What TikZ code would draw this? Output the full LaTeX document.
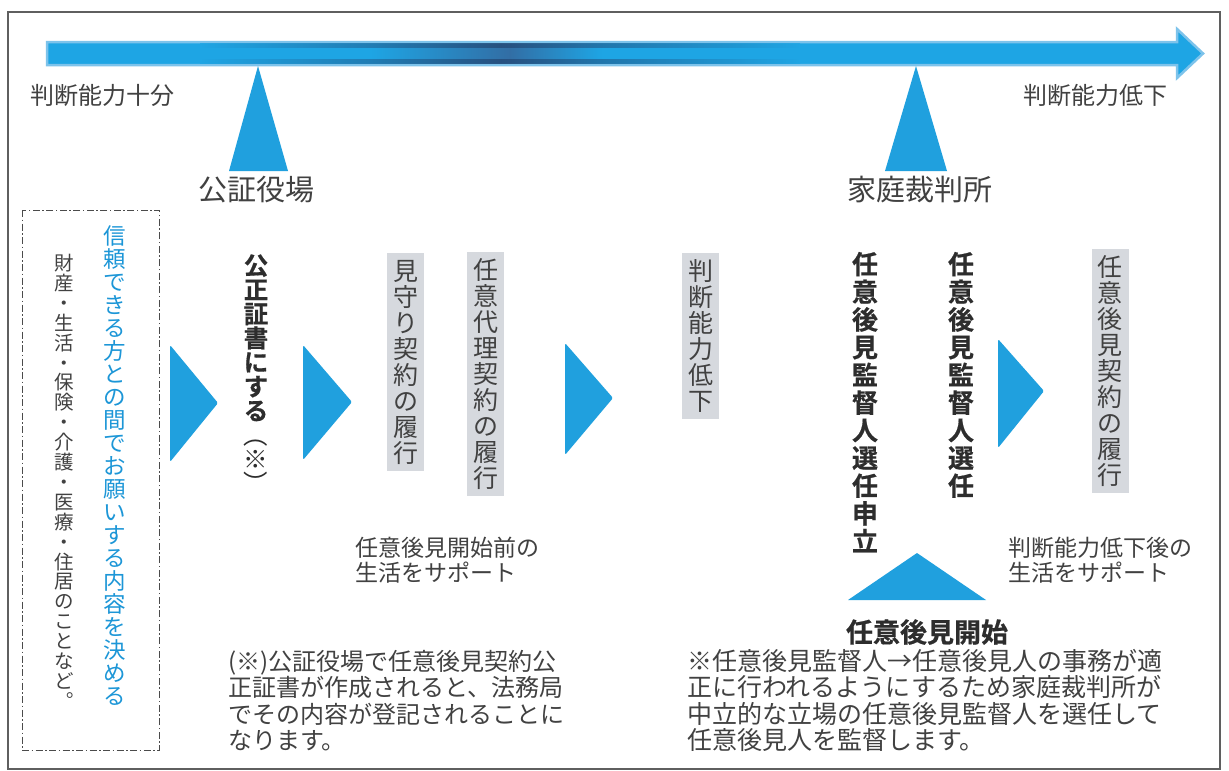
\documentclass[tikz,border=0pt]{standalone}
\usepackage{fontspec}
\setmainfont{Noto Sans CJK JP}
\newfontfamily\heavy{Noto Sans CJK JP Bold}[FakeBold=0.6]
\definecolor{tri}{RGB}{32,160,222}
\definecolor{barblue}{RGB}{30,165,228}
\definecolor{bardark}{RGB}{50,110,165}
\definecolor{bardeep}{RGB}{35,70,115}
\definecolor{barlight}{RGB}{125,195,235}
\definecolor{txt}{RGB}{65,65,65}
\definecolor{boldtxt}{RGB}{45,45,45}
\definecolor{bluetxt}{RGB}{28,150,215}
\definecolor{bggray}{RGB}{214,217,222}
\definecolor{framegray}{RGB}{95,95,95}
\definecolor{dashgray}{RGB}{75,75,75}
\pgfdeclarehorizontalshading{barshade}{100bp}{color(0bp)=(barblue); color(39bp)=(barblue); color(45bp)=(bardark); color(49bp)=(barblue); color(100bp)=(barblue)}
\makeatletter
\newlength\vstk@p
\newcommand\vstk[2]{\setlength\vstk@p{#1}\vbox{\offinterlineskip\vstk@i#2\@nil}}
\def\vstk@i#1{\ifx#1\@nil\else\vstk@b{#1}\expandafter\vstk@i\fi}
\def\vstk@b#1{\hbox to\vstk@p{\hss\vbox to\vstk@p{\vss\hbox{\vrule height .88em depth .12em width 0pt#1}\vss}\hss}}
\makeatother
\newcommand\vlp{{\normalfont\fontsize{24.5}{24.5}\selectfont ︵}}
\newcommand\vast{{\normalfont\fontsize{24.5}{24.5}\selectfont ※}}
\newcommand\vrp{{\normalfont\fontsize{24.5}{24.5}\selectfont ︶}}
\tikzset{
  hl/.style={inner sep=0pt, text=txt},
  vbg/.style={fill=bggray, inner xsep=5.5pt, inner ysep=5pt, text=txt, anchor=north, font=\fontsize{25}{25}\selectfont},
  vbold/.style={inner sep=0pt, text=boldtxt, anchor=north},
  chev/.style={fill=tri, rounded corners=1.5pt},
  uptri/.style={fill=tri}
}
\begin{document}
\begin{tikzpicture}[x=1pt,y=-1pt]
\useasboundingbox (0,0) rectangle (1229,771);
\fill[white] (0,0) rectangle (1229,771);
% frame
\draw[framegray, line width=1.3pt] (8,12) rectangle (1220,769);
% timeline arrow
\shade[shading=barshade, draw=barlight, line width=2.5pt, line join=miter]
  (47,42) -- (1177,42) -- (1177,29) -- (1203,53.5) -- (1177,78) -- (1177,65) -- (47,65) -- cycle;
\shade[left color=barblue, right color=barblue, middle color=bardeep, opacity=0.75] (200,43.5) rectangle (800,47.5);
\shade[left color=barblue, right color=barblue, middle color=bardeep, opacity=0.75] (200,59.5) rectangle (800,63.5);
% up triangles from bar
\fill[uptri] (258,66) -- (288,171) -- (229,171) -- cycle;
\fill[uptri] (916,66) -- (947,171) -- (885,171) -- cycle;
% labels on timeline
\node[hl, font=\fontsize{24}{24}\selectfont, anchor=west] (full) at (30,95) {判断能力十分};
\node[hl, font=\fontsize{24}{24}\selectfont, anchor=east] (low) at (1168,95) {判断能力低下};
\node[hl, font=\fontsize{29}{29}\selectfont] (kosho) at (256,190) {公証役場};
\node[hl, font=\fontsize{29}{29}\selectfont] (katei) at (920,190) {家庭裁判所};
% dashed box
\draw[dashgray, line width=0.9pt, dash pattern=on 7pt off 2.5pt on 1.5pt off 2.5pt] (22,210) rectangle (159,750);
\node[hl, text=bluetxt, anchor=north, font=\fontsize{22.5}{22.5}\selectfont] (trust) at (115,224) {\vstk{23pt}{信頼できる方との間でお願いする内容を決める}};
\node[hl, anchor=north, font=\fontsize{19.5}{19.5}\selectfont] (items) at (64,253) {\vstk{19.9pt}{財産・生活・保険・介護・医療・住居のことなど︒}};
% chevrons
\fill[chev] (170,345) -- (218,403) -- (170,462) -- cycle;
\fill[chev] (303,345) -- (352,402) -- (303,460) -- cycle;
\fill[chev] (565,343) -- (613,398) -- (565,455) -- cycle;
\fill[chev] (998,339) -- (1044,391) -- (998,448) -- cycle;
% vertical steps
\node[vbold, font=\heavy\fontsize{24.5}{24.5}\selectfont] (kousei) at (256,253) {\vstk{24.2pt}{公正証書にする\vlp\vast\vrp}};
\node[vbg] (mimamori) at (405.5,253) {\vstk{26pt}{見守り契約の履行}};
\node[vbg] (nini) at (485.5,252) {\vstk{26pt}{任意代理契約の履行}};
\node[vbg] (decline) at (700.5,253) {\vstk{26pt}{判断能力低下}};
\node[vbold, font=\heavy\fontsize{26}{26}\selectfont] (moushi) at (865,250) {\vstk{27.7pt}{任意後見監督人選任申立}};
\node[vbold, font=\heavy\fontsize{26}{26}\selectfont] (senin) at (961,250) {\vstk{27.7pt}{任意後見監督人選任}};
\node[vbg] (rikou) at (1110,249) {\vstk{26pt}{任意後見契約の履行}};
% support texts
\node[hl, align=left, anchor=west, font=\fontsize{23}{25}\selectfont] (before) at (355,560) {任意後見開始前の\\生活をサポート};
\node[hl, align=left, anchor=west, font=\fontsize{23}{25}\selectfont] (after) at (1008,560) {判断能力低下後の\\生活をサポート};
% start triangle and label
\fill[uptri] (917,553) -- (986,600) -- (848,600) -- cycle;
\node[hl, text=boldtxt, font=\heavy\fontsize{27}{27}\selectfont] (start) at (927,632) {任意後見開始};
% notes
\node[hl, align=left, anchor=west, font=\fontsize{24}{26.3}\selectfont] (note1) at (228,700.5) {(※)公証役場で任意後見契約公\\正証書が作成されると、法務局\\でその内容が登記されることに\\なります。};
\node[hl, align=left, anchor=west, font=\fontsize{25}{26.3}\selectfont] (note2) at (687,700.5) {※任意後見監督人→任意後見人の事務が適\\正に行われるようにするため家庭裁判所が\\中立的な立場の任意後見監督人を選任して\\任意後見人を監督します。};
\end{tikzpicture}
\end{document}
